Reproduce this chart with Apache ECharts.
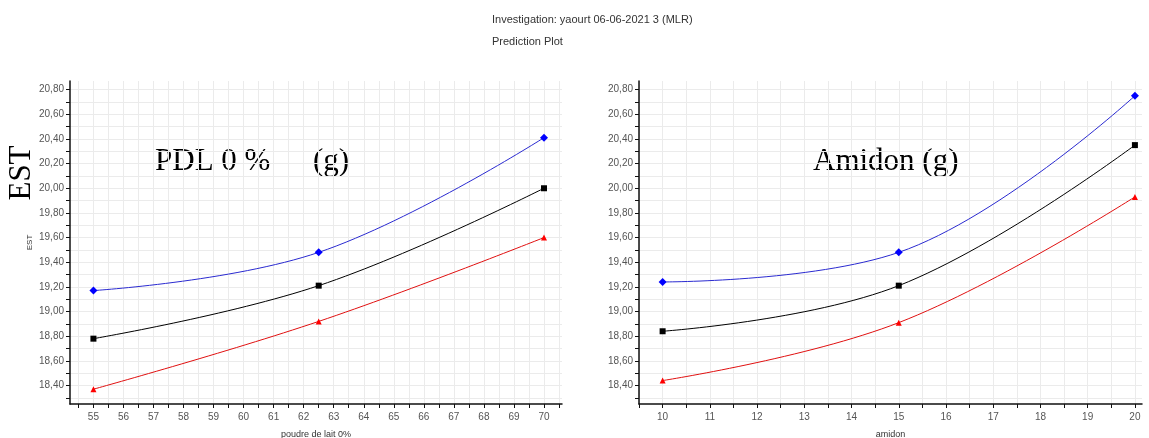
<!DOCTYPE html>
<html>
<head>
<meta charset="utf-8">
<script src="https://cdn.jsdelivr.net/npm/echarts@6/dist/echarts.min.js"></script>
<style>
html, body { margin: 0; padding: 0; background: #fff; }
#chart { width: 1149px; height: 438px; }
</style>
</head>
<body>
<div id="chart"></div>
<script>
// values
var pdlX = [55, 62.5, 70];
var pdlUpper = [19.17, 19.48, 20.41];
var pdlMid = [18.78, 19.21, 20.00];
var pdlLower = [18.37, 18.92, 19.60];

var amidonX = [10, 15, 20];
var amidonUpper = [19.24, 19.48, 20.75];
var amidonMid = [18.84, 19.21, 20.35];
var amidonLower = [18.44, 18.91, 19.93];

var yLabels = [18.4, 18.6, 18.8, 19.0, 19.2, 19.4, 19.6, 19.8, 20.0, 20.2, 20.4, 20.6, 20.8];
var pdlLabels = [55, 56, 57, 58, 59, 60, 61, 62, 63, 64, 65, 66, 67, 68, 69, 70];
var amidonLabels = [10, 11, 12, 13, 14, 15, 16, 17, 18, 19, 20];

function steps(from, to, step) {
    var out = [];
    for (var v = from; v <= to + 1e-9; v += step) out.push(Math.round(v * 100) / 100);
    return out;
}
var yTicks = steps(18.3, 20.8, 0.1);
var pdlTicks = steps(54.5, 70.5, 0.5);
var amidonTicks = steps(9.5, 20, 0.5);

function pairs(xs, ys) {
    return xs.map(function (x, i) { return [x, ys[i]]; });
}

var labelFont = { color: '#555', fontSize: 10, fontFamily: 'Liberation Sans, Arial' };
var axisLine = { show: true, lineStyle: { color: '#111', width: 1.5 } };
var gridLine = { show: true, lineStyle: { color: '#ebebeb', width: 1 } };

function xAxis(idx, min, max, labels, ticks, name) {
    return {
        type: 'value', gridIndex: idx, min: min, max: max,
        name: name, nameLocation: 'middle', nameGap: 26,
        nameTextStyle: { color: '#333', fontSize: 9, fontFamily: 'Liberation Sans, Arial' },
        axisLine: axisLine,
        axisTick: { show: true, length: 4, lineStyle: { color: '#111' }, customValues: ticks },
        axisLabel: Object.assign({ customValues: labels, margin: 8 }, labelFont),
        splitLine: gridLine
    };
}
function yAxis(idx, name) {
    return {
        type: 'value', gridIndex: idx, min: 18.25, max: 20.87,
        name: name, nameLocation: 'middle', nameGap: 36,
        nameTextStyle: { color: '#333', fontSize: 8, fontFamily: 'Liberation Sans, Arial' },
        axisLine: axisLine,
        axisTick: { show: true, length: 4, lineStyle: { color: '#111' }, customValues: yTicks },
        axisLabel: Object.assign({
            customValues: yLabels, margin: 6,
            formatter: function (v) { return v.toFixed(2).replace('.', ','); }
        }, labelFont),
        splitLine: gridLine
    };
}
function line(idx, data, color, lineColor, symbol, size) {
    return {
        type: 'line', xAxisIndex: idx, yAxisIndex: idx, data: data,
        smooth: 0.4, symbol: symbol, symbolSize: size,
        itemStyle: { color: color },
        lineStyle: { color: lineColor, width: 1 },
        z: 5
    };
}

var myChart = echarts.init(document.getElementById('chart'));
var option = {
    animation: false,
    title: [
        { text: 'Investigation: yaourt 06-06-2021 3 (MLR)', left: 487, top: 9,
          textStyle: { fontSize: 11, fontWeight: 'normal', color: '#333', fontFamily: 'Liberation Sans, Arial' } },
        { text: 'Prediction Plot', left: 487, top: 31,
          textStyle: { fontSize: 11, fontWeight: 'normal', color: '#333', fontFamily: 'Liberation Sans, Arial' } }
    ],
    grid: [
        { left: 70, top: 81, width: 492, height: 323, outerBoundsMode: 'none' },
        { left: 639, top: 81, width: 503, height: 323, outerBoundsMode: 'none' }
    ],
    xAxis: [
        xAxis(0, 54.22, 70.6, pdlLabels, pdlTicks, 'poudre de lait 0%'),
        xAxis(1, 9.5, 20.15, amidonLabels, amidonTicks, 'amidon')
    ],
    yAxis: [yAxis(0, 'EST'), yAxis(1, '')],
    series: [
        line(0, pairs(pdlX, pdlUpper), '#0000ff', '#2a2ad0', 'diamond', 8),
        line(0, pairs(pdlX, pdlMid), '#000', '#000', 'rect', 6),
        line(0, pairs(pdlX, pdlLower), '#ff0000', '#e01010', 'triangle', 6),
        line(1, pairs(amidonX, amidonUpper), '#0000ff', '#2a2ad0', 'diamond', 8),
        line(1, pairs(amidonX, amidonMid), '#000', '#000', 'rect', 6),
        line(1, pairs(amidonX, amidonLower), '#ff0000', '#e01010', 'triangle', 6)
    ],
    graphic: [
        { type: 'text', x: 22, y: 173, rotation: Math.PI / 2,
          style: { text: 'EST', font: '31px "Liberation Serif", "Times New Roman", serif', fill: '#000',
                   textAlign: 'center', textVerticalAlign: 'middle' } },
        { type: 'text', left: 155, top: 146,
          style: { text: 'PDL 0 %', font: '31px "Liberation Serif", "Times New Roman", serif', fill: '#000' } },
        { type: 'text', left: 313, top: 146,
          style: { text: '(g)', font: '31px "Liberation Serif", "Times New Roman", serif', fill: '#000' } },
        { type: 'text', left: 813, top: 146,
          style: { text: 'Amidon (g)', font: '31px "Liberation Serif", "Times New Roman", serif', fill: '#000' } }
    ]
};
option && myChart.setOption(option);
</script>
</body>
</html>
